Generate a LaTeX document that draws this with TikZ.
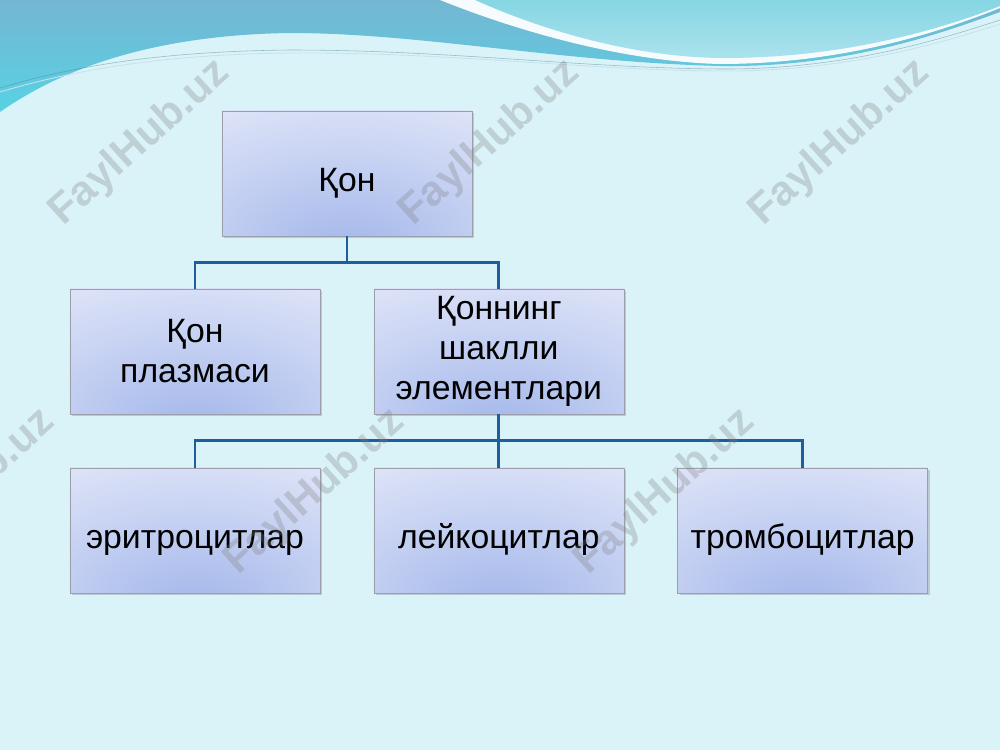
\documentclass[tikz,border=0pt]{standalone}
\usepackage{fontspec}
\setmainfont{Liberation Sans}
\usetikzlibrary{positioning, shadows}

\definecolor{slidebg}{HTML}{DAF3F8}
\definecolor{wavetop}{HTML}{74B6D2}
\definecolor{wavelow}{HTML}{58D2E4}
\definecolor{wavelight}{HTML}{86D6E4}
\definecolor{linkblue}{HTML}{1F5E9E}
\definecolor{boxedge}{HTML}{9C9EAA}
\definecolor{glowin}{HTML}{A2B6EA}
\definecolor{glowmid}{HTML}{C8D3F3}
\definecolor{glowout}{HTML}{F0F1FB}
\pgfdeclareradialshading{boxglow}{\pgfpoint{0bp}{-32bp}}{color(0bp)=(glowin); color(30bp)=(glowmid); color(64bp)=(glowout); color(100bp)=(glowout)}

\begin{document}
\begin{tikzpicture}[
    x=0.025cm, y=-0.025cm,
    node distance=1.33cm,
    box/.style={rectangle, minimum width=6.25cm, minimum height=3.125cm, text centered, align=center, draw=boxedge, shading=boxglow, drop shadow={opacity=0.35, shadow xshift=1.5pt, shadow yshift=-1.5pt}, font=\fontsize{24}{28.5}\selectfont, execute at begin node={\rule{0pt}{31pt}}},
    link/.style={draw=linkblue, line width=2pt},
    watermark/.style={rotate=42, text=gray, opacity=0.3, font=\bfseries\fontsize{30}{30}\selectfont},
]

    % Slide background
    \useasboundingbox (0,0) rectangle (1000,750);
    \clip (0,0) rectangle (1000,750);
    \fill[slidebg] (0,0) rectangle (1000,750);
    \shade[top color=wavetop, bottom color=wavelow] (0,0) -- (0,112) .. controls (60,70) and (150,35) .. (290,33) .. controls (420,33) and (560,62) .. (720,66) .. controls (850,68) and (950,30) .. (1000,12) -- (1000,0) -- cycle;
    \fill[white!75!slidebg] (440,0) .. controls (540,40) and (640,62) .. (720,64) .. controls (850,64) and (950,28) .. (1000,8) -- (1000,0) -- cycle;
    \shade[top color=wavelight, bottom color=wavelight!70!white] (475,0) .. controls (560,38) and (650,58) .. (725,58) .. controls (850,58) and (950,26) .. (1000,6) -- (1000,0) -- cycle;
    \draw[white!60!wavetop, line width=0.6pt] (0,92) .. controls (100,62) and (200,54) .. (290,53) .. controls (450,52) and (580,70) .. (720,71) .. controls (850,72) and (950,40) .. (1000,24);
    \draw[wavetop!70!black, line width=0.4pt, opacity=0.5] (0,88) .. controls (100,58) and (200,51) .. (290,50) .. controls (450,50) and (580,68) .. (720,69) .. controls (850,70) and (950,36) .. (1000,20);

    % Top level
    \node (kon) [box] at (347,173.5) {Қон};

    % Second level
    \node (plasma) [box] at (195,351.5) {Қон\\плазмаси};
    \node (elements) [box, right=of plasma] {Қоннинг\\шаклли\\элементлари};

    % Third level
    \node (leuko) [box, below=of elements] {лейкоцитлар};
    \node (erythro) [box, left=of leuko] {эритроцитлар};
    \node (thrombo) [box, right=of leuko] {тромбоцитлар};

    \draw [link] (kon.south) -- ++(0,26) -| (plasma.north);
    \draw [link] (kon.south) -- ++(0,26) -| (elements.north);
    \draw [link] (elements.south) -- ++(0,26) -| (erythro.north);
    \draw [link] (elements.south) -- (leuko.north);
    \draw [link] (elements.south) -- ++(0,26) -| (thrombo.north);

    % Watermarks
    \foreach \wx in {140,490,840} {
        \node (wmtop\wx) [watermark] at (\wx,143) {FaylHub.uz};
    }
    \foreach \wx in {-35,315,665} {
        \node (wmlow\wx) [watermark] at (\wx,492) {FaylHub.uz};
    }

\end{tikzpicture}
\end{document}
